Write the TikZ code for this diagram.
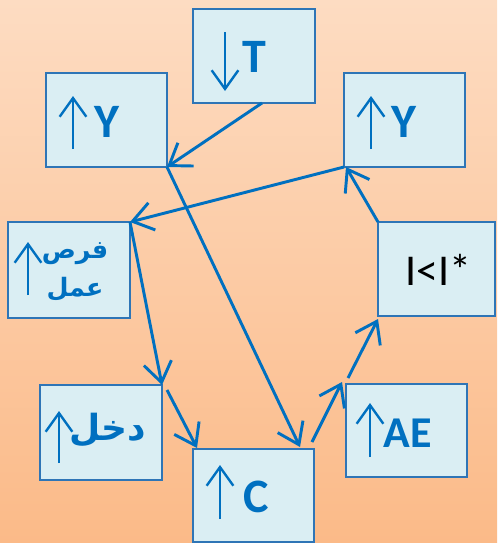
\documentclass[tikz,border=0pt]{standalone}
\usepackage{fontspec}
\setmainfont{Carlito}
\newfontfamily\arabicfont[Script=Arabic]{DejaVu Sans}
\TeXXeTstate=1
\usetikzlibrary{arrows.meta,calc}
\definecolor{boxfill}{HTML}{DAEEF3}
\definecolor{boxline}{HTML}{2E75B6}
\definecolor{txtblue}{HTML}{0070C0}
\definecolor{bgtop}{HTML}{FDDCC2}
\definecolor{bgbot}{HTML}{FBBA88}
\begin{document}
\begin{tikzpicture}[x=0.75pt,y=-0.75pt,
  box/.style={draw=boxline, fill=boxfill, line width=1.1pt, inner sep=0pt, outer sep=0pt},
  conn/.style={draw=txtblue, line width=2.2pt, -{Straight Barb[length=15pt,width=21pt]}},
  inarr/.style={draw=txtblue, line width=1.8pt, -{Straight Barb[length=14pt,width=20pt]}},
  lbl/.style={text=txtblue, font=\bfseries\fontsize{36}{40}\selectfont, inner sep=0pt},
  albl/.style={text=txtblue, inner sep=0pt, align=center}]
\shade[top color=bgtop,bottom color=bgbot] (0,0) rectangle (497,543);
\useasboundingbox (0,0) rectangle (497,543);
% boxes
\node[box, minimum width=91.5pt, minimum height=70.5pt] (T) at (254,56) {};
\node[box, minimum width=90.75pt, minimum height=70.5pt] (Yl) at (106.5,120) {};
\node[box, minimum width=90.75pt, minimum height=70.5pt] (Yr) at (404.5,120) {};
\node[box, minimum width=91.5pt, minimum height=72pt] (F) at (69,270) {};
\node[box, minimum width=87.75pt, minimum height=70.5pt] (X) at (436.5,269) {};
\node[box, minimum width=91.5pt, minimum height=71.25pt] (D) at (101,432.5) {};
\node[box, minimum width=90.75pt, minimum height=69.75pt] (C) at (253.5,495.5) {};
\node[box, minimum width=90.75pt, minimum height=69.75pt] (AE) at (406.5,430.5) {};
% inner arrows
\draw[inarr] (225,32) -- (225,91);
\draw[inarr] (73,149) -- (73,96);
\draw[inarr] (371,149) -- (371,96);
\draw[inarr] (28,295) -- (28,242);
\draw[inarr] (59,463) -- (59,411);
\draw[inarr] (220,519) -- (220,465);
\draw[inarr] (370,457) -- (370,403);
% labels
\node[lbl] (tT) at (254,57) {T};
\node[lbl] (tYl) at (107,122) {Y};
\node[lbl] (tYr) at (404,122) {Y};
\node[lbl] (tC) at (256,497) {C};
\node[lbl, font=\bfseries\fontsize{33}{38}\selectfont] (tAE) at (408,433) {AE};
\node[inner sep=0pt, font=\fontsize{33}{38}\selectfont] (tX) at (438,270) {I<I*};
\node[albl, font=\arabicfont\bfseries\fontsize{27}{30}\selectfont] (tD) at (108,430) {\beginR دخل\endR};
\node[albl, font=\arabicfont\bfseries\fontsize{19}{28}\selectfont] (tF) at (75,272) {\beginR فرص\endR\\\beginR عمل\endR};
% connectors
\draw[conn] ($(T.south)+(8,0)$) -- (Yl.south east);
\draw[conn] (Yl.south east) -- ($(C.north east)+(-14,-2)$);
\draw[conn] (Yr.south west) -- (F.north east);
\draw[conn] (X.north west) -- ($(Yr.south west)+(2,0)$);
\draw[conn] (F.north east) -- (D.north east);
\draw[conn] ($(D.north east)+(5,5)$) -- ($(C.north west)+(4,-1)$);
\draw[conn] ($(C.north east)+(-2,-7)$) -- ($(AE.north west)+(-4,-2)$);
\draw[conn] ($(AE.north west)+(2,-6)$) -- ($(X.south west)+(0,3)$);
\end{tikzpicture}
\end{document}
